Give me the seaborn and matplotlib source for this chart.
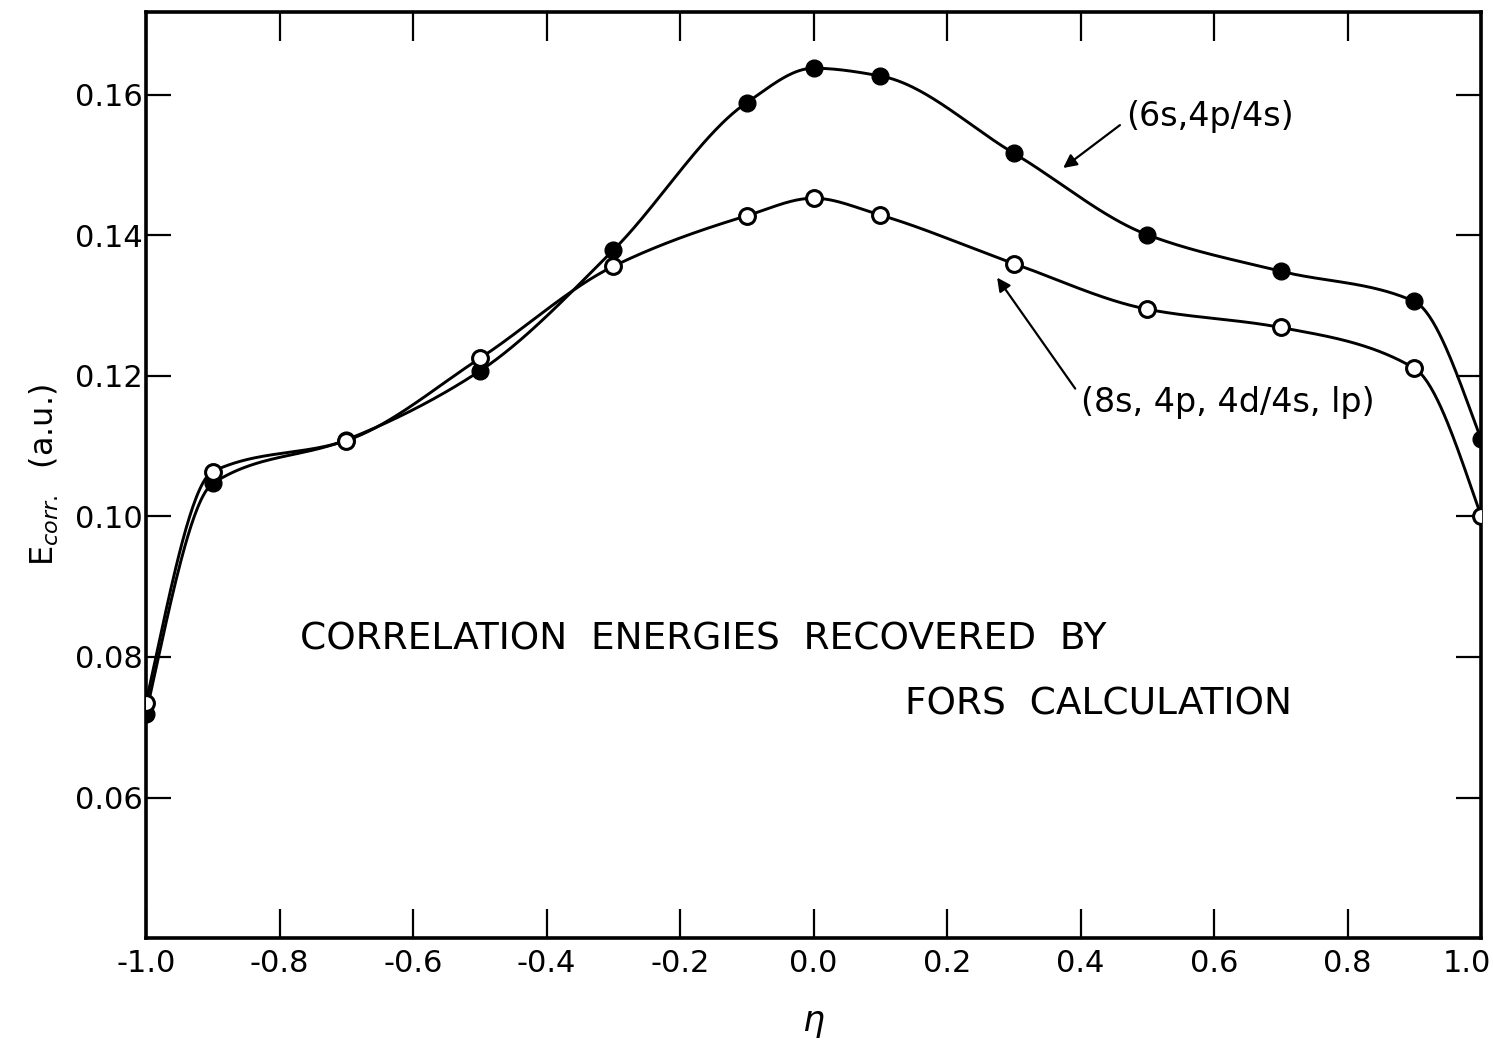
import numpy as np
import matplotlib
matplotlib.use("Agg")
import matplotlib.pyplot as plt
from matplotlib.transforms import ScaledTranslation
import seaborn as sns

# eta values at which the correlation energies were computed
eta = [-1.0, -0.9, -0.7, -0.5, -0.3, -0.1, 0.0, 0.1, 0.3, 0.5, 0.7, 0.9, 1.0]

# correlation energies (a.u.) for the two basis sets
e_6s4p = [0.0719, 0.1047, 0.1109, 0.1207, 0.1379, 0.1589, 0.1638,
          0.1627, 0.1517, 0.1401, 0.1349, 0.1306, 0.1110]
e_8s4p4d = [0.0735, 0.1064, 0.1108, 0.1225, 0.1356, 0.1428, 0.1453,
            0.1429, 0.1360, 0.1295, 0.1269, 0.1211, 0.1001]

label_6s = "(6s,4p/4s)"
label_8s = "(8s, 4p, 4d/4s, lp)"
xticks = [-1.0, -0.8, -0.6, -0.4, -0.2, 0.0, 0.2, 0.4, 0.6, 0.8, 1.0]
yticks = [0.06, 0.08, 0.10, 0.12, 0.14, 0.16]


def pchip_curve(x, y, n=800):
    """Smooth shape-preserving curve through the points (monotone cubic Hermite)."""
    x = np.asarray(x, float)
    y = np.asarray(y, float)
    h = np.diff(x)
    d = np.diff(y) / h
    m = np.zeros_like(y)
    for k in range(1, len(x) - 1):
        if d[k - 1] * d[k] > 0:
            w1 = 2 * h[k] + h[k - 1]
            w2 = h[k] + 2 * h[k - 1]
            m[k] = (w1 + w2) / (w1 / d[k - 1] + w2 / d[k])

    def end(h0, h1, d0, d1):
        s = ((2 * h0 + h1) * d0 - h0 * d1) / (h0 + h1)
        if np.sign(s) != np.sign(d0):
            s = 0.0
        elif np.sign(d0) != np.sign(d1) and abs(s) > abs(3 * d0):
            s = 3 * d0
        return s

    m[0] = end(h[0], h[1], d[0], d[1])
    m[-1] = end(h[-1], h[-2], d[-1], d[-2])
    xs = np.linspace(x[0], x[-1], n)
    i = np.clip(np.searchsorted(x, xs) - 1, 0, len(x) - 2)
    t = (xs - x[i]) / h[i]
    h00 = 2 * t ** 3 - 3 * t ** 2 + 1
    h10 = t ** 3 - 2 * t ** 2 + t
    h01 = -2 * t ** 3 + 3 * t ** 2
    h11 = t ** 3 - t ** 2
    ys = h00 * y[i] + h10 * h[i] * m[i] + h01 * y[i + 1] + h11 * h[i] * m[i + 1]
    return xs, ys


sns.set_theme(style="ticks")
plt.rcParams["font.family"] = ["DejaVu Sans"]
plt.rcParams["axes.unicode_minus"] = False
plt.rcParams["text.color"] = "black"
plt.rcParams["axes.labelcolor"] = "black"

fig = plt.figure(figsize=(14.93, 10.44), dpi=100)
ax = fig.add_axes([0.0978, 0.1015, 0.8942, 0.887])

for ys in (e_6s4p, e_8s4p4d):
    sx, sy = pchip_curve(eta, ys)
    sns.lineplot(x=sx, y=sy, ax=ax, color="black", linewidth=2.1,
                 sort=False, estimator=None, legend=False)

sns.scatterplot(x=eta, y=e_6s4p, ax=ax, s=145, color="black",
                edgecolor="black", linewidth=1, zorder=3, legend=False)
sns.scatterplot(x=eta, y=e_8s4p4d, ax=ax, s=130, color="white",
                edgecolor="black", linewidth=2.2, zorder=4, legend=False)

ax.set_xlim(-1.0, 1.0)
ax.set_ylim(0.04, 0.1718)
ax.set_xticks(xticks)
ax.set_xticklabels([f"{v:.1f}" for v in xticks])
ax.set_yticks(yticks)
ax.set_yticklabels([f"{v:.2f}" for v in yticks])

for s in ax.spines.values():
    s.set_visible(True)
    s.set_linewidth(2.6)
    s.set_color("black")

ax.tick_params(axis="x", direction="in", length=21, width=1.6,
               top=True, bottom=True, labelsize=22, pad=8, colors="black")
ax.tick_params(axis="y", direction="in", length=18, width=1.6,
               left=True, right=True, labelsize=22, pad=2, colors="black")

# keep the last x tick label inside the figure
last = ax.get_xticklabels()[-1]
last.set_transform(last.get_transform() + ScaledTranslation(-10 / 72, 0, fig.dpi_scale_trans))

ax.set_xlabel(r"$\eta$", fontsize=25, labelpad=20)
ax.set_ylabel(r"E$_{corr.}$  (a.u.)", fontsize=23, labelpad=10)

ax.text(-0.77, 0.0825, "CORRELATION  ENERGIES  RECOVERED  BY",
        fontsize=27, ha="left", va="center")
ax.text(0.137, 0.0733, "FORS  CALCULATION",
        fontsize=27, ha="left", va="center")

ax.text(0.468, 0.1569, label_6s, fontsize=24, ha="left", va="center")
ax.text(0.400, 0.1162, label_8s, fontsize=24, ha="left", va="center")

arrow = dict(arrowstyle="-|>", color="black", lw=1.6,
             mutation_scale=20, shrinkA=0, shrinkB=0)
ax.annotate("", xy=(0.374, 0.1496), xytext=(0.459, 0.1557), arrowprops=arrow)
ax.annotate("", xy=(0.275, 0.1340), xytext=(0.392, 0.1182), arrowprops=arrow)

fig.savefig("out.png", dpi=100, facecolor="white")
